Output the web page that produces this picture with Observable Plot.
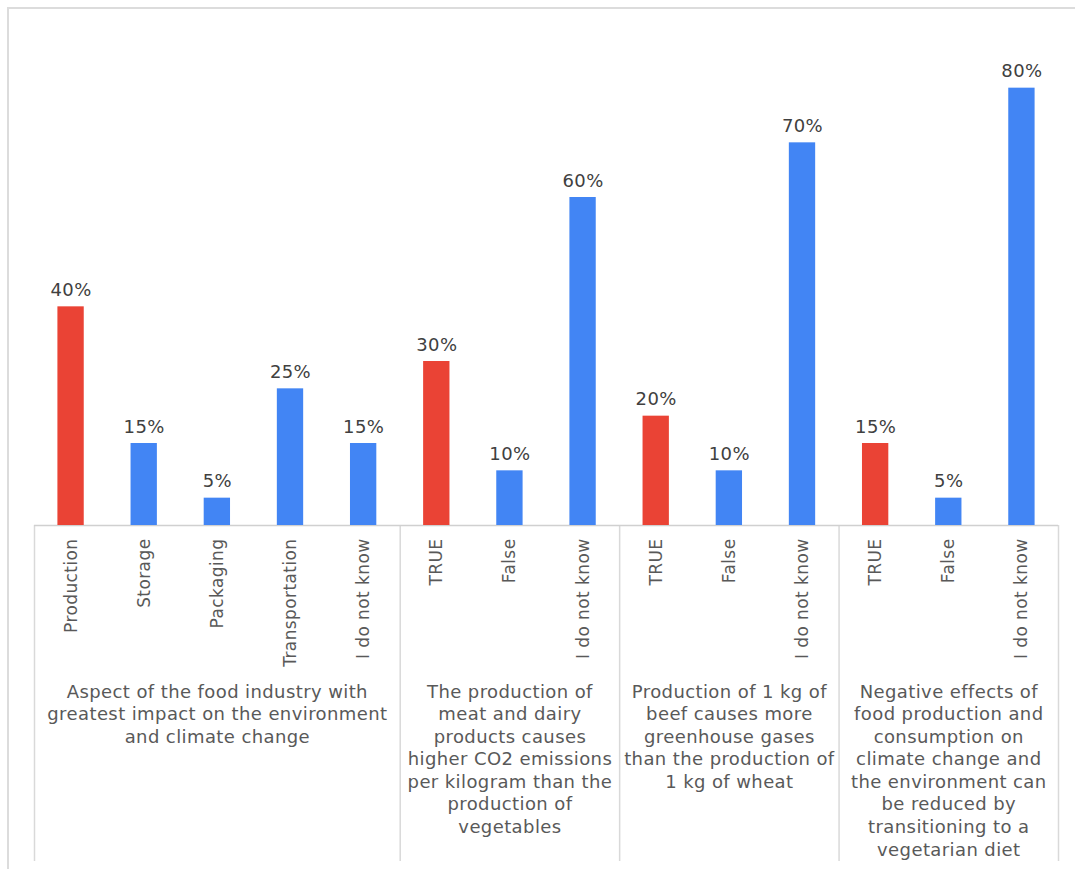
<!DOCTYPE html>
<html><head><meta charset="utf-8">
<script src="https://cdn.jsdelivr.net/npm/d3@7"></script>
<script src="https://cdn.jsdelivr.net/npm/@observablehq/plot@0.6"></script>
<style>
html,body{margin:0;padding:0;background:#fff;}
#wrap{position:relative;width:1075px;height:869px;overflow:hidden;}
#frame{position:absolute;left:7px;top:7px;right:-10px;bottom:-10px;border-top:2px solid #dcdcdc;border-left:2px solid #dcdcdc;}
#chart{position:absolute;left:0;top:0;}
</style></head><body>
<div id="wrap"><div id="frame"></div><div id="chart"></div></div>
<script>
const categories = ["Production","Storage","Packaging","Transportation","I do not know",
  "TRUE","False","I do not know",
  "TRUE","False","I do not know",
  "TRUE","False","I do not know"];
const values = [40,15,5,25,15, 30,10,60, 20,10,70, 15,5,80];
const answerType = ["lead","other","other","other","other",
  "lead","other","other",
  "lead","other","other",
  "lead","other","other"];
const groupLabels = [
  "Aspect of the food industry with\ngreatest impact on the environment\nand climate change",
  "The production of\nmeat and dairy\nproducts causes\nhigher CO2 emissions\nper kilogram than the\nproduction of\nvegetables",
  "Production of 1 kg of\nbeef causes more\ngreenhouse gases\nthan the production of\n1 kg of wheat",
  "Negative effects of\nfood production and\nconsumption on\nclimate change and\nthe environment can\nbe reduced by\ntransitioning to a\nvegetarian diet"
];
const groupSizes = [5,3,3,3];

const rows = categories.map((c,i)=>({i, label:c, value:values[i], type:answerType[i]}));
const edges = [-0.5];
const groups = [];
let start = 0;
groupSizes.forEach((n,g)=>{
  groups.push({label:groupLabels[g], center:start+(n-1)/2});
  start += n;
  edges.push(start-0.5);
});

const chart = Plot.plot({
  width:1075, height:869,
  marginLeft:34, marginRight:17, marginTop:33, marginBottom:344,
  x:{domain:[-0.5, categories.length-0.5], axis:null},
  y:{domain:[0,90], axis:null},
  color:{domain:["lead","other"], range:["#EA4335","#4285F4"]},
  style:{fontFamily:"'DejaVu Sans', sans-serif", background:"transparent", letterSpacing:"0.4px"},
  marks:[
    Plot.ruleX(edges,{y1:0, y2:0, insetBottom:-336, stroke:"#d9d9d9", strokeWidth:1.5}),
    Plot.ruleY([0],{stroke:"#d0d0d0", strokeWidth:1.5}),
    Plot.rectY(rows,{x1:d=>d.i-0.18, x2:d=>d.i+0.18, y:"value", fill:"type"}),
    Plot.text(rows,{x:"i", y:"value", text:d=>d.value+"%", lineAnchor:"bottom", dy:-11, fontSize:18, fill:"#404040"}),
    Plot.text(rows,{x:"i", y:0, text:"label", rotate:-90, textAnchor:"end", lineAnchor:"middle", dy:13, fontSize:17, fill:"#595959"}),
    Plot.text(groups,{x:"center", y:0, text:"label", lineAnchor:"top", dy:156, fontSize:18, lineHeight:1.255, fill:"#595959"})
  ]
});
document.getElementById("chart").appendChild(chart);
</script>
</body></html>
